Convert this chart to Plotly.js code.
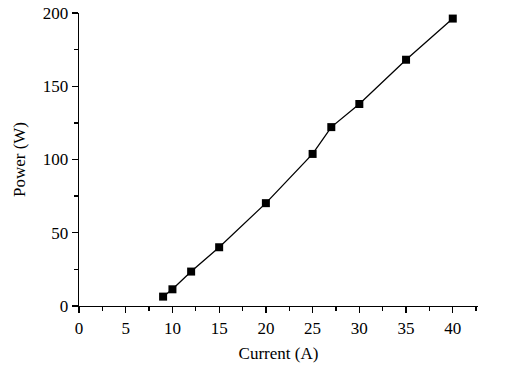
<!DOCTYPE html>
<html>
<head>
<meta charset="utf-8">
<script src="https://cdn.plot.ly/plotly-3.0.1.min.js"></script>
<style>html,body{margin:0;padding:0;background:#fff;}#chart{width:511px;height:368px;}</style>
</head>
<body>
<div id="chart"></div>
<script>
const current = [9, 10, 12, 15, 20, 25, 27, 30, 35, 40];
const power = [6.4, 11.4, 23.5, 40.1, 70.2, 103.8, 122.1, 137.9, 168.1, 196.2];
const xTickVals = [0, 5, 10, 15, 20, 25, 30, 35, 40];
const yTickVals = [0, 50, 100, 150, 200];

const font = {family: 'Liberation Serif, Times New Roman, serif', size: 17, color: '#000'};
const trace = {
  x: current, y: power, mode: 'lines+markers', type: 'scatter',
  line: {color: '#000', width: 1.3},
  marker: {symbol: 'square', size: 8, color: '#000'},
  showlegend: false
};
const layout = {
  width: 511, height: 368,
  margin: {l: 79, r: 33, t: 13, b: 62},
  paper_bgcolor: '#fff', plot_bgcolor: '#fff',
  font: font,
  xaxis: {
    range: [0, 42.7], tickvals: xTickVals, ticks: 'outside', ticklen: 6, tickwidth: 1.3, tickcolor: '#000',
    showline: true, linecolor: '#000', linewidth: 1.3, showgrid: false, zeroline: false,
    minor: {dtick: 2.5, tick0: 0, ticks: 'outside', ticklen: 4, tickwidth: 1.3, tickcolor: '#000', showgrid: false},
    title: {text: 'Current (A)', font: font, standoff: 10},
    tickfont: font
  },
  yaxis: {
    range: [0, 200], tickvals: yTickVals, ticks: 'outside', ticklen: 6, tickwidth: 1.3, tickcolor: '#000',
    showline: true, linecolor: '#000', linewidth: 1.3, showgrid: false, zeroline: false,
    minor: {dtick: 25, tick0: 0, ticks: 'outside', ticklen: 4, tickwidth: 1.3, tickcolor: '#000', showgrid: false},
    title: {text: 'Power (W)', font: font, standoff: 12},
    tickfont: font
  }
};
Plotly.newPlot('chart', [trace], layout, {displayModeBar: false, staticPlot: true});
</script>
</body>
</html>
